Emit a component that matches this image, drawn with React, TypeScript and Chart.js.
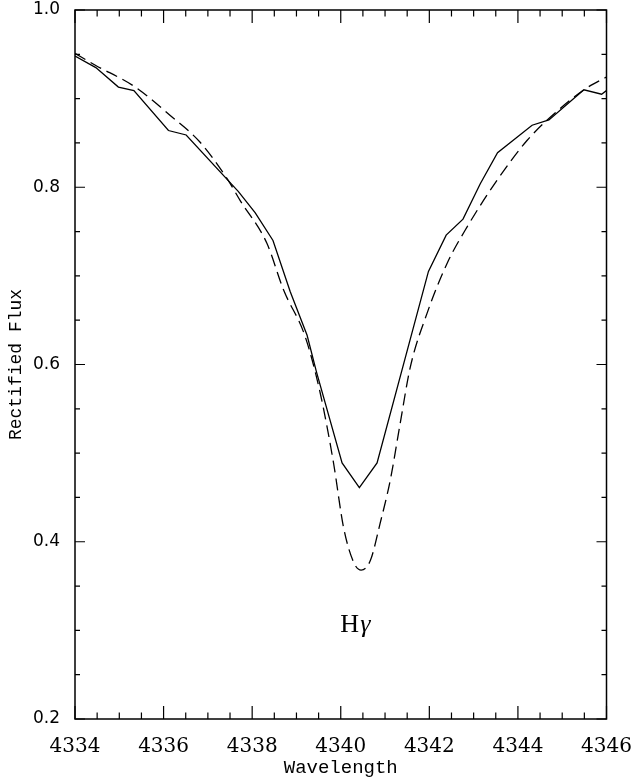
import { useEffect, useRef } from "react";
import { Chart, registerables } from "chart.js";

Chart.register(...registerables);

// Observed spectrum (solid line)
const observedWavelength = [
  4334.0, 4334.47, 4334.98, 4335.33, 4336.11, 4336.51, 4337.69, 4338.07, 4338.47,
  4338.86, 4339.24, 4339.45, 4340.03, 4340.42, 4340.82, 4341.98, 4342.38, 4342.76,
  4343.15, 4343.54, 4344.32, 4344.7, 4345.49, 4345.89, 4346.02,
];
const observedFlux = [
  0.948, 0.935, 0.913, 0.909, 0.864, 0.859, 0.795, 0.771, 0.74,
  0.682, 0.633, 0.592, 0.489, 0.461, 0.489, 0.705, 0.746, 0.764,
  0.804, 0.839, 0.87, 0.876, 0.91, 0.905, 0.91,
];

// Model profile (dashed line)
const modelWavelength = [
  4334.0, 4334.45, 4335.36, 4336.15, 4336.82, 4337.43, 4337.73, 4338.33, 4338.71,
  4339.2, 4339.54, 4339.84, 4340.06, 4340.29, 4340.46, 4340.67, 4340.89, 4341.12,
  4341.34, 4341.57, 4341.95, 4342.4, 4342.85, 4343.53, 4344.21, 4344.73, 4345.49, 4346.02,
];
const modelFlux = [
  0.951, 0.938, 0.913, 0.881, 0.851, 0.81, 0.785, 0.737, 0.684,
  0.631, 0.567, 0.488, 0.417, 0.377, 0.368, 0.379, 0.421, 0.47,
  0.533, 0.597, 0.658, 0.714, 0.755, 0.808, 0.853, 0.879, 0.91, 0.925,
];

const xMin = 4334;
const xMax = 4346;
const xMajorStep = 2;
const xMinorStep = 0.5;
const yMin = 0.2;
const yMax = 1.0;
const yMajorStep = 0.2;
const yMinorStep = 0.05;

const xTitle = "Wavelength";
const yTitle = "Rectified Flux";
const lineLabelElement = "H";
const lineLabelSeries = "γ";
const lineLabelAt = { x: 4340.33, y: 0.298 };

const toPoints = (xs: number[], ys: number[]) => xs.map((x, i) => ({ x, y: ys[i] }));

const zeroPad = (s: any) => {
  s.paddingTop = 0;
  s.paddingBottom = 0;
  s.paddingLeft = 0;
  s.paddingRight = 0;
};

const framePlugin = {
  id: "idlFrame",
  afterDraw(chart: any) {
    const { ctx, chartArea: a, scales } = chart;
    const xs = scales.x;
    const ys = scales.y;
    ctx.save();
    ctx.strokeStyle = "#000";
    ctx.lineWidth = 1.2;
    ctx.beginPath();
    const nx = Math.round((xMax - xMin) / xMinorStep);
    for (let i = 0; i <= nx; i++) {
      const v = xMin + i * xMinorStep;
      const px = xs.getPixelForValue(v);
      const major = i % Math.round(xMajorStep / xMinorStep) === 0;
      const len = major ? 13 : 6.5;
      ctx.moveTo(px, a.bottom);
      ctx.lineTo(px, a.bottom - len);
      ctx.moveTo(px, a.top);
      ctx.lineTo(px, a.top + len);
    }
    const ny = Math.round((yMax - yMin) / yMinorStep);
    for (let i = 0; i <= ny; i++) {
      const v = yMin + i * yMinorStep;
      const py = ys.getPixelForValue(v);
      const major = i % Math.round(yMajorStep / yMinorStep) === 0;
      const len = major ? 10 : 5;
      ctx.moveTo(a.left, py);
      ctx.lineTo(a.left + len, py);
      ctx.moveTo(a.right, py);
      ctx.lineTo(a.right - len, py);
    }
    ctx.stroke();
    ctx.lineWidth = 1.5;
    ctx.strokeRect(a.left, a.top, a.right - a.left, a.bottom - a.top);

    // "Hγ" annotation: upright H, italic gamma
    ctx.fillStyle = "#000";
    ctx.textBaseline = "alphabetic";
    ctx.textAlign = "left";
    const fontH = "26px 'Liberation Serif'";
    const fontG = "italic 26px 'Liberation Serif'";
    ctx.font = fontH;
    const wH = ctx.measureText(lineLabelElement).width;
    ctx.font = fontG;
    const wG = ctx.measureText(lineLabelSeries).width;
    const cx = xs.getPixelForValue(lineLabelAt.x);
    const by = ys.getPixelForValue(lineLabelAt.y);
    const x0 = cx - (wH + wG + 1) / 2;
    ctx.font = fontH;
    ctx.fillText(lineLabelElement, x0, by);
    ctx.font = fontG;
    ctx.fillText(lineLabelSeries, x0 + wH + 1, by);
    ctx.restore();
  },
};

export default function App() {
  const ref = useRef<HTMLCanvasElement | null>(null);

  useEffect(() => {
    if (!ref.current) return;
    const chart = new Chart(ref.current, {
      type: "line",
      data: {
        datasets: [
          {
            label: "Observed",
            data: toPoints(observedWavelength, observedFlux),
            borderColor: "#000",
            borderWidth: 1.3,
            pointRadius: 0,
            tension: 0,
            fill: false,
          },
          {
            label: "Model",
            data: toPoints(modelWavelength, modelFlux),
            borderColor: "#000",
            borderWidth: 1.3,
            borderDash: [12, 6],
            pointRadius: 0,
            cubicInterpolationMode: "monotone",
            fill: false,
          },
        ],
      },
      options: {
        animation: false,
        responsive: false,
        devicePixelRatio: 1,
        layout: { padding: { top: 10, right: 24.5, left: 0, bottom: 0 } },
        plugins: { legend: { display: false }, tooltip: { enabled: false } },
        scales: {
          x: {
            type: "linear",
            min: xMin,
            max: xMax,
            grid: { display: false },
            border: { display: false },
            ticks: {
              stepSize: xMajorStep,
              color: "#000",
              padding: 8,
              maxRotation: 0,
              font: { family: "'DejaVu Serif'", size: 20 },
              callback: (v: any) => String(v),
            },
            title: {
              display: true,
              text: xTitle,
              color: "#000",
              font: { family: "'Liberation Mono'", size: 19 },
              padding: { top: 0, bottom: 1 },
            },
            afterFit: (s: any) => {
              s.height = 61;
              zeroPad(s);
            },
          },
          y: {
            type: "linear",
            min: yMin,
            max: yMax,
            grid: { display: false },
            border: { display: false },
            ticks: {
              stepSize: yMajorStep,
              color: "#000",
              padding: 7,
              font: { family: "'DejaVu Sans'", size: 17 },
              callback: (v: any) => Number(v).toFixed(1),
            },
            title: {
              display: true,
              text: yTitle,
              color: "#000",
              font: { family: "'Liberation Mono'", size: 18 },
              padding: { top: 5, bottom: 0 },
            },
            afterFit: (s: any) => {
              s.width = 75;
              zeroPad(s);
            },
          },
        },
      },
      plugins: [framePlugin],
    });
    return () => chart.destroy();
  }, []);

  return (
    <div style={{ position: "absolute", left: 0, top: 0, width: 631, height: 780, background: "#fff" }}>
      <canvas ref={ref} width={631} height={780} style={{ display: "block" }} />
    </div>
  );
}
